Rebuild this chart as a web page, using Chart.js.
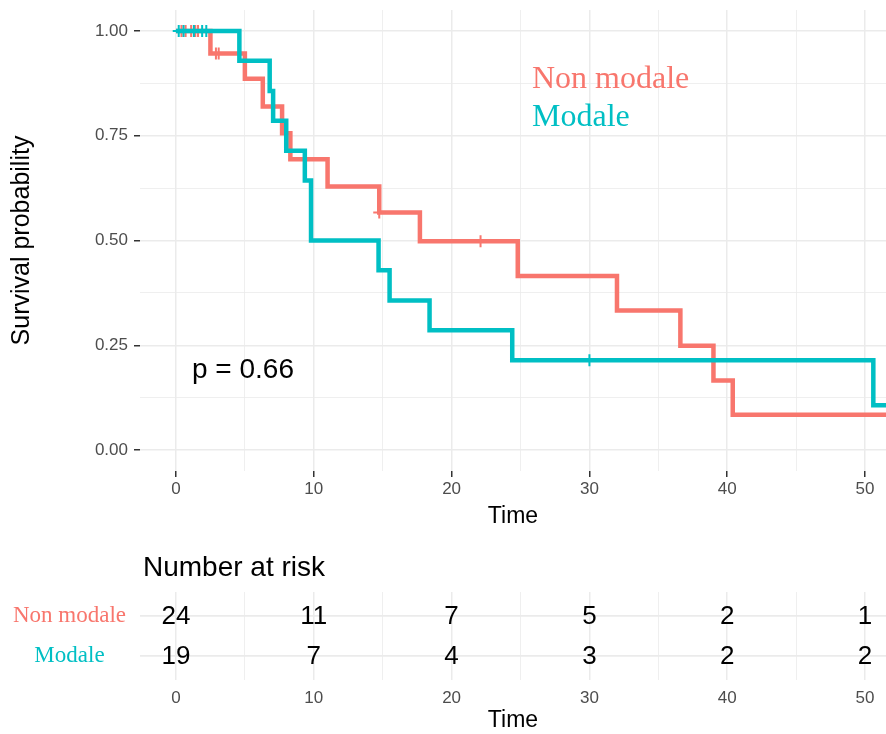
<!DOCTYPE html>
<html lang="en">
<head>
<meta charset="UTF-8" />
<title>Survival curves - Non modale vs Modale</title>
<script src="https://cdn.jsdelivr.net/npm/chart.js"></script>
<style>
  body { margin: 0; background: #fff; }
  #wrap { position: relative; width: 886px; height: 734px; overflow: hidden; }
  canvas { position: absolute; left: 0; }
  #survCanvas { top: 0; }
  #riskCanvas { top: 540px; }
</style>
</head>
<body>
<div id="wrap">
  <canvas id="survCanvas" width="886" height="540"></canvas>
  <canvas id="riskCanvas" width="886" height="194"></canvas>
</div>

<script>
  const groups = ['Non modale', 'Modale'];
  const groupColors = ['#F8766D', '#00BFC4'];

  // Kaplan-Meier steps: event time and survival after it
  const nonModaleTimes = [0, 2.5, 5.0, 6.3, 7.7, 8.3, 11.0, 14.75, 17.7, 24.8, 32.0, 36.6, 39.0, 40.4, 54];
  const nonModaleSurv  = [1, 0.946, 0.886, 0.820, 0.756, 0.694, 0.629, 0.567, 0.498, 0.415, 0.333, 0.249, 0.166, 0.084, 0.084];
  const modaleTimes = [0, 4.6, 6.8, 7.05, 8.0, 9.35, 9.8, 14.7, 15.5, 18.4, 24.4, 50.6, 54];
  const modaleSurv  = [1, 0.929, 0.857, 0.786, 0.714, 0.643, 0.5, 0.429, 0.357, 0.286, 0.214, 0.107, 0.107];

  // censored observations
  const nonModaleCensorTimes = [0.4, 0.7, 1.1, 1.4, 1.6, 2.9, 3.1, 14.75, 22.1];
  const nonModaleCensorSurv  = [1, 1, 1, 1, 1, 0.946, 0.946, 0.567, 0.498];
  const modaleCensorTimes = [0.2, 0.55, 1.3, 1.9, 2.2, 30.0];
  const modaleCensorSurv  = [1, 1, 1, 1, 1, 0.214];

  // number at risk table
  const riskTimes = [0, 10, 20, 30, 40, 50];
  const nonModaleRisk = [24, 11, 7, 5, 2, 1];
  const modaleRisk = [19, 7, 4, 3, 2, 2];

  const xGrid = [0, 5, 10, 15, 20, 25, 30, 35, 40, 45, 50];
  const yGrid = [0, 0.125, 0.25, 0.375, 0.5, 0.625, 0.75, 0.875, 1];
  const pValueText = 'p = 0.66';

  const X_MIN = -2.61, X_MAX = 51.52;
  const gridColor = '#EBEBEB';
  const sans = '"Liberation Sans", Arial, sans-serif';
  const serif = '"Liberation Serif", "Times New Roman", serif';

  const isMajorX = v => v % 10 === 0;
  const isMajorY = v => Math.abs(v * 4 - Math.round(v * 4)) < 1e-6;
  const pts = (xs, ys) => xs.map((x, i) => ({ x: x, y: ys[i] }));

  // keep the plot panel exactly where the layout padding puts it
  function noPad(s) { s.paddingTop = 0; s.paddingBottom = 0; s.paddingLeft = 0; s.paddingRight = 0; }

  const survText = {
    id: 'survText',
    afterDraw(chart) {
      const c = chart.ctx;
      c.save();
      c.textAlign = 'left';
      c.textBaseline = 'alphabetic';
      c.font = '32px ' + serif;
      c.fillStyle = groupColors[0];
      c.fillText(groups[0], 532, 88);
      c.fillStyle = groupColors[1];
      c.fillText(groups[1], 532, 126);
      c.font = '28px ' + sans;
      c.fillStyle = '#000';
      c.fillText(pValueText, 192, 378);
      c.restore();
    }
  };

  new Chart(document.getElementById('survCanvas'), {
    type: 'line',
    data: {
      datasets: [
        { label: 'Modale censored', data: pts(modaleCensorTimes, modaleCensorSurv), showLine: false,
          pointStyle: 'cross', pointRadius: 6, borderColor: groupColors[1], borderWidth: 2, order: 0 },
        { label: 'Modale', data: pts(modaleTimes, modaleSurv), stepped: true, pointRadius: 0,
          borderColor: groupColors[1], borderWidth: 4.5, fill: false, order: 1 },
        { label: 'Non modale censored', data: pts(nonModaleCensorTimes, nonModaleCensorSurv), showLine: false,
          pointStyle: 'cross', pointRadius: 6, borderColor: groupColors[0], borderWidth: 2, order: 2 },
        { label: 'Non modale', data: pts(nonModaleTimes, nonModaleSurv), stepped: true, pointRadius: 0,
          borderColor: groupColors[0], borderWidth: 4.5, fill: false, order: 3 }
      ]
    },
    options: {
      responsive: false,
      animation: false,
      layout: { autoPadding: false, padding: { top: 10, left: 0, right: 0, bottom: 0 } },
      plugins: { legend: { display: false }, tooltip: { enabled: false } },
      scales: {
        x: {
          type: 'linear', min: X_MIN, max: X_MAX,
          afterBuildTicks: s => { s.ticks = xGrid.map(v => ({ value: v })); },
          afterFit: s => { s.height = 69; noPad(s); },
          border: { display: false },
          grid: {
            color: gridColor,
            lineWidth: ctx => isMajorX(ctx.tick.value) ? 1.5 : 0.8,
            tickColor: ctx => isMajorX(ctx.tick.value) ? '#333333' : 'rgba(0,0,0,0)',
            tickLength: 6, tickWidth: 1.5
          },
          ticks: {
            autoSkip: false, maxRotation: 0, padding: 2, color: '#4D4D4D',
            font: { family: sans, size: 17 },
            callback: v => isMajorX(v) ? String(v) : ''
          },
          title: { display: true, text: 'Time', color: '#000', font: { family: sans, size: 23 },
                   padding: { top: 0, bottom: 10 } }
        },
        y: {
          type: 'linear', min: -0.05, max: 1.05,
          afterBuildTicks: s => { s.ticks = yGrid.map(v => ({ value: v })); },
          afterFit: s => { s.width = 140; noPad(s); },
          border: { display: false },
          grid: {
            color: gridColor,
            lineWidth: ctx => isMajorY(ctx.tick.value) ? 1.5 : 0.8,
            tickColor: ctx => isMajorY(ctx.tick.value) ? '#333333' : 'rgba(0,0,0,0)',
            tickLength: 6, tickWidth: 1.5
          },
          ticks: {
            autoSkip: false, padding: 6, color: '#4D4D4D',
            font: { family: sans, size: 17 },
            callback: v => isMajorY(v) ? v.toFixed(2) : ''
          },
          title: { display: true, text: 'Survival probability', color: '#000',
                   font: { family: sans, size: 25 }, padding: { top: 7, bottom: 0 } }
        }
      }
    },
    plugins: [survText]
  });

  // risk table: numbers placed with the chart's own scales
  const riskText = {
    id: 'riskText',
    afterDraw(chart) {
      const c = chart.ctx;
      const xs = chart.scales.x, ys = chart.scales.y;
      c.save();
      c.font = '28px ' + sans;
      c.fillStyle = '#000';
      c.textAlign = 'left';
      c.textBaseline = 'alphabetic';
      c.fillText('Number at risk', 143, 36);
      c.font = '26px ' + sans;
      c.textAlign = 'center';
      c.textBaseline = 'middle';
      [nonModaleRisk, modaleRisk].forEach((row, r) => {
        row.forEach((n, i) => {
          c.fillText(String(n), xs.getPixelForValue(riskTimes[i]), ys.getPixelForValue(r + 1) + 1);
        });
      });
      c.restore();
    }
  };

  new Chart(document.getElementById('riskCanvas'), {
    type: 'scatter',
    data: { datasets: [] },
    options: {
      responsive: false,
      animation: false,
      layout: { autoPadding: false, padding: { top: 52, left: 0, right: 0, bottom: 0 } },
      plugins: { legend: { display: false }, tooltip: { enabled: false } },
      scales: {
        x: {
          type: 'linear', min: X_MIN, max: X_MAX,
          afterBuildTicks: s => { s.ticks = xGrid.map(v => ({ value: v })); },
          afterFit: s => { s.height = 54; noPad(s); },
          border: { display: false },
          grid: {
            color: gridColor, drawTicks: false,
            lineWidth: ctx => isMajorX(ctx.tick.value) ? 1.5 : 0.8
          },
          ticks: {
            autoSkip: false, maxRotation: 0, padding: 8, color: '#4D4D4D',
            font: { family: sans, size: 17 },
            callback: v => isMajorX(v) ? String(v) : ''
          },
          title: { display: true, text: 'Time', color: '#000', font: { family: sans, size: 23 },
                   padding: { top: 0, bottom: 0 } }
        },
        y: {
          type: 'linear', min: 0.4, max: 2.6, reverse: true,
          afterBuildTicks: s => { s.ticks = [1, 2].map(v => ({ value: v })); },
          afterFit: s => { s.width = 140; noPad(s); },
          border: { display: false },
          grid: { color: gridColor, lineWidth: 1.8, drawTicks: false },
          ticks: {
            autoSkip: false, padding: 14, crossAlign: 'center',
            color: ctx => groupColors[ctx.index],
            font: { family: serif, size: 23 },
            callback: v => groups[v - 1]
          }
        }
      }
    },
    plugins: [riskText]
  });
</script>
</body>
</html>
